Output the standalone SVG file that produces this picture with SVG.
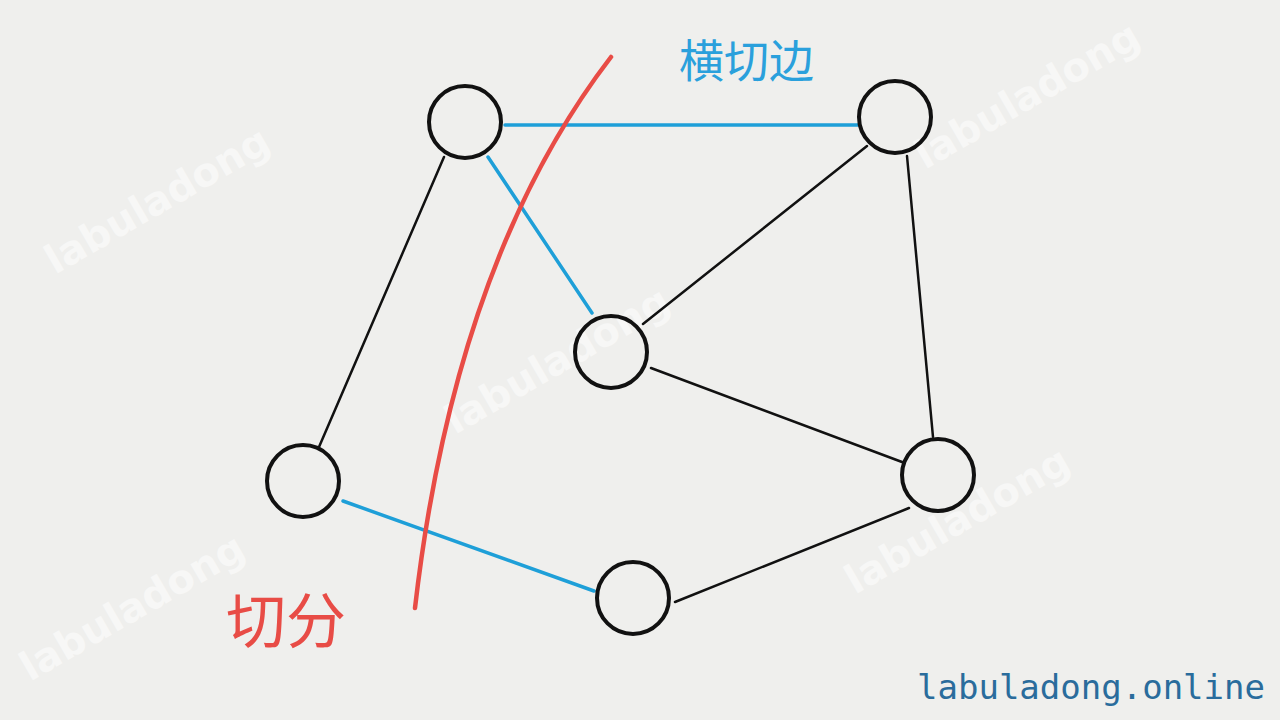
<svg xmlns="http://www.w3.org/2000/svg" width="1280" height="720" viewBox="0 0 1280 720">
<style>
.node{fill:none;stroke:#111;stroke-width:4}
.e{stroke:#111;stroke-width:2.5;stroke-linecap:round}
.cut{stroke:#1e9fd8;stroke-width:3.5;stroke-linecap:round}
.wm{font-family:"DejaVu Sans",sans-serif;font-weight:bold;font-size:40px;fill:#f7f7f6}
</style>
<rect width="1280" height="720" fill="#efefed"/>
<g id="watermarks">
<text class="wm" transform="translate(55,275) rotate(-30)">labuladong</text>
<text class="wm" transform="translate(455,435) rotate(-30)">labuladong</text>
<text class="wm" transform="translate(855,595) rotate(-30)">labuladong</text>
<text class="wm" transform="translate(925,170) rotate(-30)">labuladong</text>
<text class="wm" transform="translate(30,682) rotate(-30)">labuladong</text>
</g>
<g id="connectors">
<line class="cut" x1="505" y1="125" x2="858" y2="125"/>
<line class="cut" x1="488" y1="157" x2="592" y2="313"/>
<line class="e" x1="444" y1="157" x2="319" y2="447"/>
<line class="e" x1="867" y1="146" x2="643" y2="324"/>
<line class="e" x1="907" y1="156" x2="933" y2="437"/>
<line class="e" x1="651" y1="368" x2="902" y2="462"/>
<line class="cut" x1="343" y1="501" x2="594" y2="591"/>
<line class="e" x1="675" y1="602" x2="909" y2="508"/>
</g>
<g id="cut-line">
<path d="M611,57 Q455,260 415,608" fill="none" stroke="#e84c46" stroke-width="4.5" stroke-linecap="round"/>
</g>
<g id="nodeA"><circle class="node" cx="465" cy="122" r="36"/></g>
<g id="nodeB"><circle class="node" cx="895" cy="117" r="36"/></g>
<g id="nodeC"><circle class="node" cx="611" cy="352" r="36"/></g>
<g id="nodeD"><circle class="node" cx="303" cy="481" r="36"/></g>
<g id="nodeE"><circle class="node" cx="938" cy="475" r="36"/></g>
<g id="nodeF"><circle class="node" cx="633" cy="598" r="36"/></g>
<g id="labels">
<text x="679" y="78" font-family="'Noto Sans CJK SC',sans-serif" font-size="45" fill="#2aa0dc">横切边</text>
<text x="226" y="643" font-family="'Noto Sans CJK SC',sans-serif" font-size="60" fill="#e84c46">切分</text>
<text x="917" y="699" font-family="'DejaVu Sans Mono',monospace" font-size="34" fill="#2a6c9c">labuladong.online</text>
</g>
</svg>
